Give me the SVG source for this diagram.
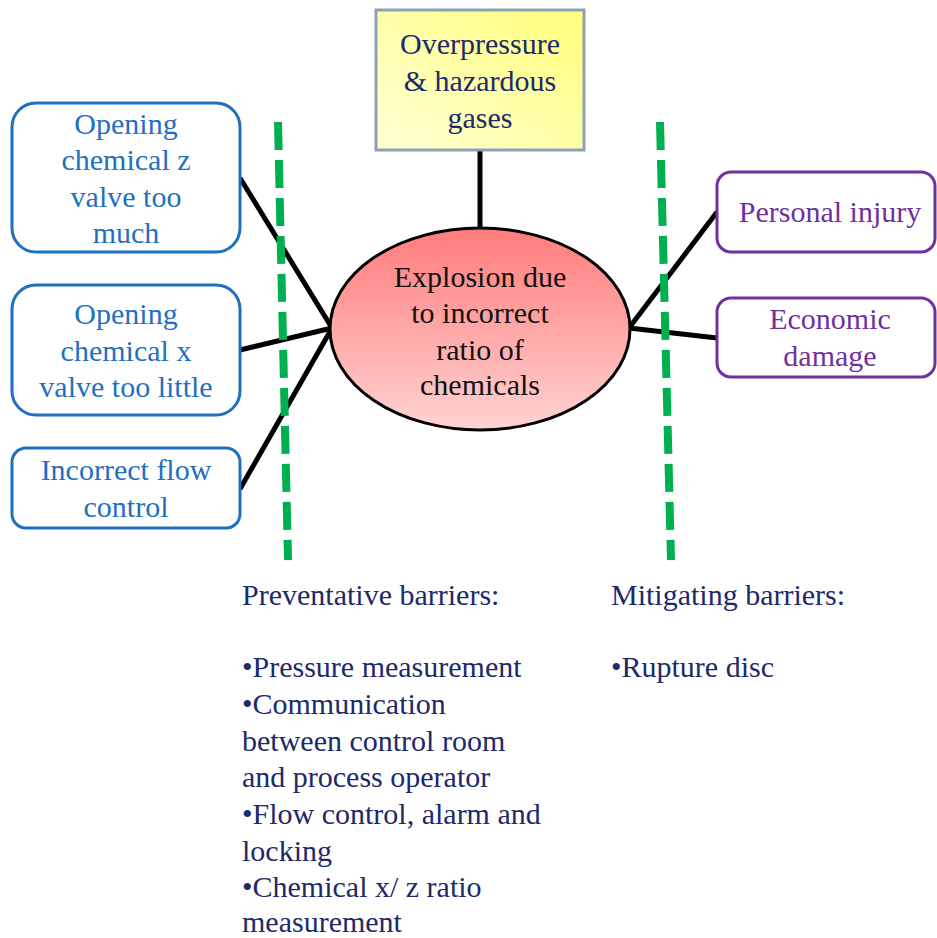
<svg xmlns="http://www.w3.org/2000/svg" width="937" height="938" viewBox="0 0 937 938" font-family="'Liberation Serif', 'Times New Roman', serif">
  <defs>
    <linearGradient id="gradTop" x1="0" y1="1" x2="1" y2="0">
      <stop offset="0" stop-color="#ffffd6"/>
      <stop offset="1" stop-color="#ffff7a"/>
    </linearGradient>
    <linearGradient id="gradEvent" x1="0" y1="0" x2="0" y2="1">
      <stop offset="0" stop-color="#ff7b7b"/>
      <stop offset="1" stop-color="#ffd3d3"/>
    </linearGradient>
  </defs>
  <style>
    text { font-family: 'Liberation Serif', 'Times New Roman', serif; font-size: 30px; }
    .cause rect { fill: #ffffff; stroke: #1f70c1; stroke-width: 3; }
    .cause text { fill: #1f70c1; text-anchor: middle; }
    .conseq rect { fill: #ffffff; stroke: #7030a0; stroke-width: 3; }
    .conseq text { fill: #7030a0; text-anchor: middle; }
    .link { stroke: #000000; stroke-width: 5; fill: none; }
    .barrier { stroke: #00b050; stroke-width: 8; stroke-dasharray: 28 10; fill: none; }
    .notes { fill: #1c2a6a; }
  </style>

  <!-- connectors -->
  <g id="connectors">
    <line class="link" x1="480" y1="150" x2="480" y2="229"/>
    <line class="link" x1="240" y1="178" x2="332" y2="328"/>
    <line class="link" x1="240" y1="350" x2="332" y2="328"/>
    <line class="link" x1="240" y1="489" x2="332" y2="328"/>
    <line class="link" x1="629" y1="328" x2="717" y2="212"/>
    <line class="link" x1="629" y1="328" x2="717" y2="338"/>
  </g>

  <!-- top event -->
  <g id="hazard">
    <rect x="376" y="10" width="208" height="140" fill="url(#gradTop)" stroke="#8aa3b6" stroke-width="3"/>
    <text x="480" y="54" text-anchor="middle" fill="#1c2a6a">Overpressure</text>
    <text x="480" y="91" text-anchor="middle" fill="#1c2a6a">&amp; hazardous</text>
    <text x="480" y="128" text-anchor="middle" fill="#1c2a6a">gases</text>
  </g>

  <g id="event">
    <ellipse cx="480" cy="329" rx="150" ry="101" fill="url(#gradEvent)" stroke="#000000" stroke-width="3"/>
    <text x="480" y="287" text-anchor="middle" fill="#111111">Explosion due</text>
    <text x="480" y="323" text-anchor="middle" fill="#111111">to incorrect</text>
    <text x="480" y="360" text-anchor="middle" fill="#111111">ratio of</text>
    <text x="480" y="395" text-anchor="middle" fill="#111111">chemicals</text>
  </g>

  <!-- causes -->
  <g id="cause-z" class="cause">
    <rect x="12" y="103" width="228" height="149" rx="24"/>
    <text x="126" y="134">Opening</text>
    <text x="126" y="170">chemical z</text>
    <text x="126" y="207">valve too</text>
    <text x="126" y="243">much</text>
  </g>
  <g id="cause-x" class="cause">
    <rect x="12" y="285" width="228" height="130" rx="24"/>
    <text x="126" y="324">Opening</text>
    <text x="126" y="361">chemical x</text>
    <text x="126" y="397">valve too little</text>
  </g>
  <g id="cause-flow" class="cause">
    <rect x="12" y="448" width="228" height="80" rx="14"/>
    <text x="126" y="480">Incorrect flow</text>
    <text x="126" y="517">control</text>
  </g>

  <!-- consequences -->
  <g id="injury" class="conseq">
    <rect x="717" y="172" width="218" height="80" rx="14"/>
    <text x="830" y="222">Personal injury</text>
  </g>
  <g id="damage" class="conseq">
    <rect x="717" y="298" width="218" height="79" rx="14"/>
    <text x="830" y="329">Economic</text>
    <text x="830" y="366">damage</text>
  </g>

  <!-- barrier lines -->
  <g id="barriers">
    <line class="barrier" x1="278" y1="122" x2="288" y2="560"/>
    <line class="barrier" x1="660" y1="122" x2="671" y2="560"/>
  </g>

  <!-- barrier lists -->
  <g id="preventative" class="notes">
    <text x="242" y="605">Preventative barriers:</text>
    <text x="242" y="677">•Pressure measurement</text>
    <text x="242" y="714">•Communication</text>
    <text x="242" y="751">between control room</text>
    <text x="242" y="787">and process operator</text>
    <text x="242" y="824">•Flow control, alarm and</text>
    <text x="242" y="861">locking</text>
    <text x="242" y="897">•Chemical x/ z ratio</text>
    <text x="242" y="932">measurement</text>
  </g>
  <g id="mitigating" class="notes">
    <text x="611" y="605">Mitigating barriers:</text>
    <text x="611" y="677">•Rupture disc</text>
  </g>
</svg>
